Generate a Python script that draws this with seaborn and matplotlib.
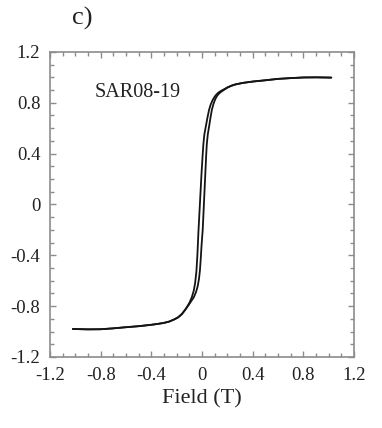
import numpy as np
import pandas as pd
import seaborn as sns
import matplotlib
matplotlib.use("Agg")
import matplotlib.pyplot as plt
from matplotlib.ticker import MultipleLocator, FuncFormatter

# ascending branch (right side of the loop)
field_up = [-1.02, -0.9, -0.8, -0.7, -0.6, -0.5, -0.4, -0.35, -0.30, -0.26, -0.22, -0.19,
            -0.16, -0.13, -0.105, -0.085, -0.065, -0.048, -0.035, -0.025, -0.017, -0.010,
            -0.004, 0.005, 0.012, 0.018, 0.026, 0.032, 0.037, 0.045, 0.055, 0.066, 0.077,
            0.090, 0.103, 0.116, 0.13, 0.15, 0.175, 0.20, 0.23, 0.26, 0.32, 0.40, 0.5, 0.6,
            0.7, 0.8, 0.9, 1.02]
moment_up = [-0.980, -0.983, -0.982, -0.975, -0.966, -0.958, -0.947, -0.940, -0.932, -0.922,
             -0.905, -0.888, -0.862, -0.825, -0.79, -0.76, -0.73, -0.69, -0.645, -0.59,
             -0.52, -0.42, -0.32, -0.20, -0.05, 0.08, 0.25, 0.38, 0.47, 0.55, 0.61, 0.68,
             0.743, 0.79, 0.825, 0.85, 0.868, 0.885, 0.902, 0.918, 0.932, 0.942, 0.955,
             0.966, 0.976, 0.987, 0.993, 0.998, 0.999, 0.997]

# descending branch (left side of the loop)
field_down = [-1.02, -0.9, -0.8, -0.7, -0.6, -0.5, -0.4, -0.35, -0.31, -0.26, -0.22, -0.19,
              -0.16, -0.134, -0.115, -0.098, -0.081, -0.066, -0.055, -0.045, -0.037, -0.029,
              -0.020, -0.012, -0.004, 0.004, 0.010, 0.018, 0.029, 0.042, 0.055, 0.068, 0.083,
              0.10, 0.115, 0.13, 0.15, 0.175, 0.20, 0.23, 0.26, 0.32, 0.40, 0.5, 0.6, 0.7,
              0.8, 0.9, 1.02]
moment_down = [-0.980, -0.983, -0.982, -0.975, -0.966, -0.958, -0.947, -0.940, -0.934,
               -0.922, -0.905, -0.89, -0.865, -0.83, -0.80, -0.77, -0.73, -0.68, -0.62,
               -0.53, -0.40, -0.22, -0.05, 0.10, 0.25, 0.38, 0.47, 0.55, 0.61, 0.68, 0.743,
               0.785, 0.82, 0.848, 0.866, 0.88, 0.893, 0.906, 0.92, 0.933, 0.943, 0.955,
               0.966, 0.976, 0.987, 0.993, 0.998, 0.999, 0.997]

major_ticks = [-1.2, -0.8, -0.4, 0, 0.4, 0.8, 1.2]

sns.set_style("ticks")
plt.rcParams['font.family'] = ['Liberation Serif', 'DejaVu Serif']
plt.rcParams['axes.unicode_minus'] = False

fig = plt.figure(figsize=(3.82, 4.28), dpi=100)
ax = fig.add_axes([0.131, 0.166, 0.796, 0.713])

up = pd.DataFrame({'field': field_up, 'moment': moment_up})
down = pd.DataFrame({'field': field_down, 'moment': moment_down})
for branch in (up, down):
    sns.lineplot(data=branch, x='field', y='moment', sort=False, estimator=None,
                 color='#141414', linewidth=1.3, ax=ax)

ax.set_xlim(-1.2, 1.2)
ax.set_ylim(-1.2, 1.2)
ax.set_xticks(major_ticks)
ax.set_yticks(major_ticks)
ax.xaxis.set_minor_locator(MultipleLocator(0.1))
ax.yaxis.set_minor_locator(MultipleLocator(0.1))
fmt = FuncFormatter(lambda v, p: "0" if abs(v) < 1e-9 else f"{v:.1f}")
ax.xaxis.set_major_formatter(fmt)
ax.yaxis.set_major_formatter(fmt)

for s in ax.spines.values():
    s.set_visible(True)
    s.set_color('#8c8c8c')
    s.set_linewidth(1.2)
ax.tick_params(which='both', direction='in', top=True, right=True,
               color='#8c8c8c', width=1.0, labelsize=13.5, labelcolor='#222222')
ax.tick_params(which='major', length=4, pad=7)
ax.tick_params(which='minor', length=3)

ax.set_xlabel("Field (T)", fontsize=16, color='#222222', labelpad=4)
ax.set_ylabel("")
ax.text(-0.85, 0.88, "SAR08-19", fontsize=14.5, color='#222222', va='center', ha='left')
fig.text(0.215, 0.958, "c)", fontsize=19, color='#222222', ha='center', va='center')

fig.savefig("out.png", dpi=100)
